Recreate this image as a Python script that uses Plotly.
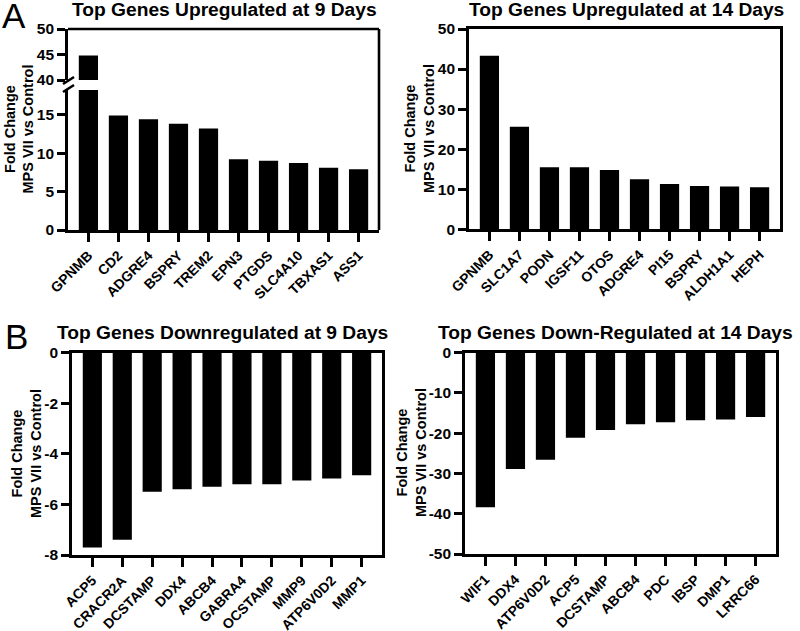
import plotly.graph_objects as go

# ---------------- data ----------------
up9_genes = ["GPNMB", "CD2", "ADGRE4", "BSPRY", "TREM2", "EPN3", "PTGDS", "SLC4A10", "TBXAS1", "ASS1"]
up9_vals = [44.8, 14.9, 14.4, 13.8, 13.2, 9.2, 9.0, 8.7, 8.1, 7.9]

up14_genes = ["GPNMB", "SLC1A7", "PODN", "IGSF11", "OTOS", "ADGRE4", "PI15", "BSPRY", "ALDH1A1", "HEPH"]
up14_vals = [43.3, 25.6, 15.5, 15.5, 14.8, 12.5, 11.3, 10.8, 10.7, 10.5]

down9_genes = ["ACP5", "CRACR2A", "DCSTAMP", "DDX4", "ABCB4", "GABRA4", "OCSTAMP", "MMP9", "ATP6V0D2", "MMP1"]
down9_vals = [-7.7, -7.4, -5.5, -5.4, -5.3, -5.2, -5.2, -5.05, -4.97, -4.85]

down14_genes = ["WIF1", "DDX4", "ATP6V0D2", "ACP5", "DCSTAMP", "ABCB4", "PDC", "IBSP", "DMP1", "LRRC66"]
down14_vals = [-38.4, -28.9, -26.6, -21.1, -19.2, -17.8, -17.3, -16.8, -16.6, -16.0]

titles = ["Top Genes Upregulated at 9 Days", "Top Genes Upregulated at 14 Days",
          "Top Genes Downregulated at 9 Days", "Top Genes Down-Regulated at 14 Days"]
ytitle = "Fold Change<br>MPS VII vs Control"

# ---------------- layout helpers ----------------
W, H = 800, 631
def px(x): return x / W
def py(y): return 1 - y / H

FONT = "Liberation Sans, Arial, sans-serif"
xtickfont = dict(family=FONT, size=14, color="black", weight="bold")
ytickfont = dict(family=FONT, size=15.5, color="black", weight="bold")
LW = 2.6
BAR = dict(color="black", line=dict(width=0))

fig = go.Figure()

# Panel TL (broken axis): lower part y, upper part y2, shared x
fig.add_trace(go.Bar(x=up9_genes, y=up9_vals, marker=BAR, xaxis="x", yaxis="y", showlegend=False))
fig.add_trace(go.Bar(x=up9_genes, y=up9_vals, marker=BAR, xaxis="x", yaxis="y2", showlegend=False))
# Panel TR
fig.add_trace(go.Bar(x=up14_genes, y=up14_vals, marker=BAR, xaxis="x2", yaxis="y3", showlegend=False))
# Panel BL
fig.add_trace(go.Bar(x=down9_genes, y=down9_vals, marker=BAR, xaxis="x3", yaxis="y4", showlegend=False))
# Panel BR
fig.add_trace(go.Bar(x=down14_genes, y=down14_vals, marker=BAR, xaxis="x4", yaxis="y5", showlegend=False))

def xax(x0, x1, anchor, mirror=False):
    return dict(domain=[px(x0), px(x1)], anchor=anchor, range=[-0.68, 9.68], automargin=False,
                showline=True, linecolor="black", linewidth=LW, mirror=mirror,
                ticks="outside", ticklen=9, tickwidth=LW, tickcolor="black",
                tickangle=-45, tickfont=xtickfont, showgrid=False, zeroline=False, fixedrange=True)

def yax(y_top, y_bot, anchor, rng, tickvals, mirror=False):
    return dict(domain=[py(y_bot), py(y_top)], anchor=anchor, range=rng, automargin=False,
                tickvals=tickvals, ticktext=[str(v) for v in tickvals],
                showline=True, linecolor="black", linewidth=LW, mirror=mirror,
                ticks="outside", ticklen=8, tickwidth=LW, tickcolor="black",
                tickfont=ytickfont, showgrid=False, zeroline=False, fixedrange=True)

fig.update_layout(
    width=W, height=H, margin=dict(l=0, r=0, t=0, b=0, autoexpand=False),
    paper_bgcolor="white", plot_bgcolor="white", bargap=0.36,
    xaxis=xax(68, 379, "y"),
    yaxis=yax(90, 230, "x", [0, 18.2], [0, 5, 10, 15]),
    yaxis2=yax(29, 80, "x", [40, 50], [40, 45, 50]),
    xaxis2=xax(469, 780, "y3", mirror=True),
    yaxis3=yax(29, 229.3, "x2", [0, 50], [0, 10, 20, 30, 40, 50], mirror=True),
    xaxis3=xax(72, 382, "y4", mirror=True),
    yaxis4=yax(352.7, 555, "x3", [-8, 0], [-8, -6, -4, -2, 0], mirror=True),
    xaxis4=xax(465, 776, "y5", mirror=True),
    yaxis5=yax(352.7, 554, "x4", [-50, 0], [-50, -40, -30, -20, -10, 0], mirror=True),
)

# frame for broken-axis panel (top and right lines) + break marks
line = dict(color="black", width=LW)
fig.add_shape(type="line", xref="paper", yref="paper", x0=px(68), x1=px(379), y0=py(29), y1=py(29), line=line)
fig.add_shape(type="line", xref="paper", yref="paper", x0=px(379), x1=px(379), y0=py(29), y1=py(230), line=line)
fig.add_shape(type="line", xref="paper", yref="paper", x0=px(63), x1=px(74), y0=py(84), y1=py(77), line=line)
fig.add_shape(type="line", xref="paper", yref="paper", x0=px(63), x1=px(74), y0=py(92), y1=py(85), line=line)

# titles
title_font = dict(family=FONT, size=19.2, color="black")
for text, cx, ty in [(titles[0], 224, 10), (titles[1], 626, 10), (titles[2], 222, 332), (titles[3], 615, 332)]:
    fig.add_annotation(text="<b>%s</b>" % text, x=px(cx), y=py(ty), xref="paper", yref="paper",
                       xanchor="center", yanchor="middle", showarrow=False, font=title_font)

# y-axis titles
ytfont = dict(family=FONT, size=14.5, color="black")
for cx, cy in [(19, 129.5), (420, 129), (26, 454), (411, 453)]:
    fig.add_annotation(text="<b>%s</b>" % ytitle, x=px(cx), y=py(cy), xref="paper", yref="paper",
                       xanchor="center", yanchor="middle", textangle=-90, showarrow=False, font=ytfont)

# panel letters
for t, cx, cy in [("A", 14, 16), ("B", 16, 336)]:
    fig.add_annotation(text=t, x=px(cx), y=py(cy), xref="paper", yref="paper",
                       xanchor="center", yanchor="middle", showarrow=False,
                       font=dict(family=FONT, size=35, color="black"))

fig.write_html("out.html", config={"displayModeBar": False},
               post_script="document.body.style.margin='0px';")
